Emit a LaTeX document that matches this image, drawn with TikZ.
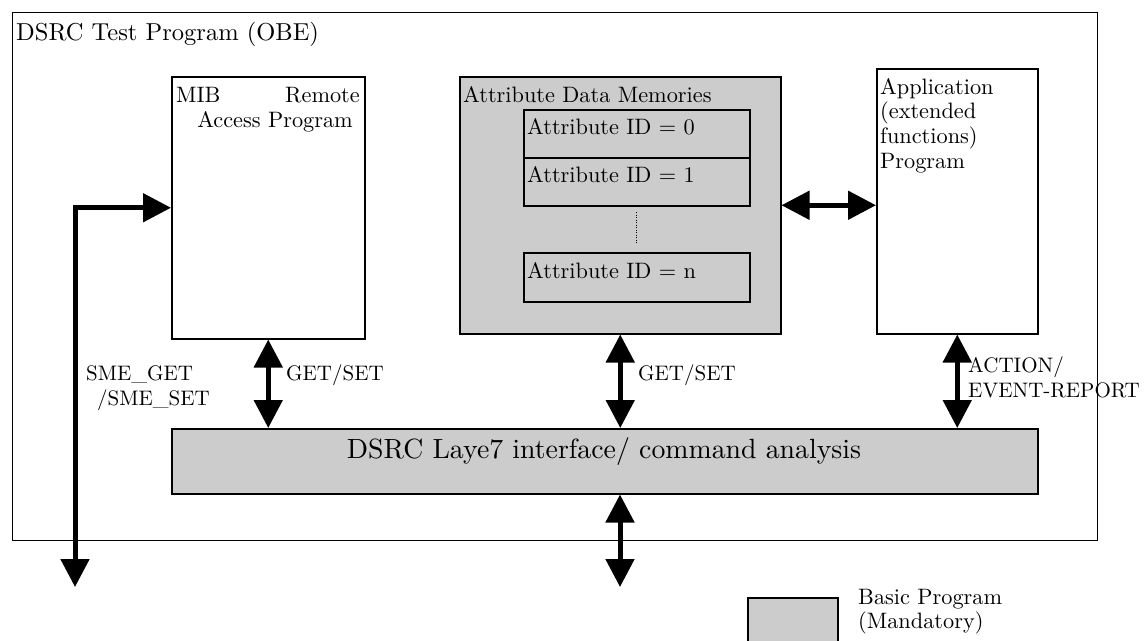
\documentclass[tikz,border=0pt]{standalone}
\usepackage{fontspec}
\setmainfont{lmroman10-regular.otf}
\usetikzlibrary{arrows.meta}
\definecolor{graybox}{RGB}{204,204,204}
\begin{document}
\begin{tikzpicture}[x=1pt,y=-1pt,
  box/.style={draw, line width=1.5pt, inner sep=0pt, anchor=north west},
  gbox/.style={box, fill=graybox},
  txt/.style={inner sep=0pt, anchor=base west, font=\fontsize{22.3}{24}\selectfont},
  lbl/.style={inner sep=0pt, anchor=base west, font=\fontsize{21}{24}\selectfont},
  dbl/.style={line width=5pt, {Triangle[length=28pt 0 0,width=28pt 0 0]}-{Triangle[length=28pt 0 0,width=28pt 0 0]}}
]
\useasboundingbox (0,0) rectangle (1145,640);
% outer
\node[box, line width=1.3pt, minimum width=1085pt, minimum height=528pt] (outer) at (12,12) {};
\node[txt, font=\fontsize{24.5}{26}\selectfont] (title) at (16,40) {DSRC Test Program (OBE)};
% MIB
\node[box, minimum width=193pt, minimum height=262pt] (mib) at (171,76) {};
\node[txt] (mib1) at (176,102) {MIB};
\node[txt, anchor=base east] (mib2) at (360,102) {Remote};
\node[txt, anchor=base east] (mib3) at (353,127) {Access Program};
% Attribute data memories
\node[gbox, minimum width=321pt, minimum height=257pt] (adm) at (459,76) {};
\node[txt] (admt) at (463,102) {Attribute Data Memories};
\node[gbox, minimum width=226pt, minimum height=48pt] (id0) at (523,109) {};
\node[gbox, minimum width=226pt, minimum height=48pt] (id1) at (523,157) {};
\node[gbox, minimum width=226pt, minimum height=49pt] (idn) at (523,252) {};
\node[txt] (id0t) at (527,134) {Attribute ID = 0};
\node[txt] (id1t) at (527,182) {Attribute ID = 1};
\node[txt] (idnt) at (527,278) {Attribute ID = n};
\coordinate (dt) at (636,212);
\coordinate (db) at (636,243);
\draw[line width=1pt, dash pattern=on 1pt off 1.5pt] (dt) -- (db);
% Application
\node[box, minimum width=161pt, minimum height=265pt] (app) at (876,68) {};
\node[txt] (app1) at (880,94) {Application};
\node[txt] (app2) at (880,118) {(extended};
\node[txt] (app3) at (880,143) {functions)};
\node[txt] (app4) at (880,168) {Program};
% bar
\node[gbox, minimum width=866pt, minimum height=65pt] (bar) at (171,428) {};
\node[inner sep=0pt, anchor=base, font=\fontsize{27.8}{30}\selectfont] (bart) at (604,458) {DSRC Laye7 interface/ command analysis};
% arrows
\draw[dbl] (mib.south) -- (mib.south |- bar.north);
\draw[dbl] (adm.south) -- (adm.south |- bar.north);
\draw[dbl] (app.south) -- (app.south |- bar.north);
\draw[dbl] (adm.east) -- (adm.east -| app.west);
\coordinate (bot) at (620,587);
\draw[dbl] (bar.south -| bot) -- (bot);
\coordinate (sme) at (75,587);
\draw[dbl] (sme) |- (mib.west);
% labels
\node[lbl] (l1) at (86,380) {SME\_GET};
\node[lbl] (l2) at (97,405) {/SME\_SET};
\node[lbl] (l3) at (286,380) {GET/SET};
\node[lbl] (l4) at (638,380) {GET/SET};
\node[lbl] (l5) at (968,372) {ACTION/};
\node[lbl] (l6) at (968,397) {EVENT-REPORT};
% legend
\node[gbox, minimum width=90pt, minimum height=60pt] (leg) at (747,597) {};
\node[txt] (leg1) at (858,604) {Basic Program};
\node[txt] (leg2) at (858,628) {(Mandatory)};
\end{tikzpicture}
\end{document}
